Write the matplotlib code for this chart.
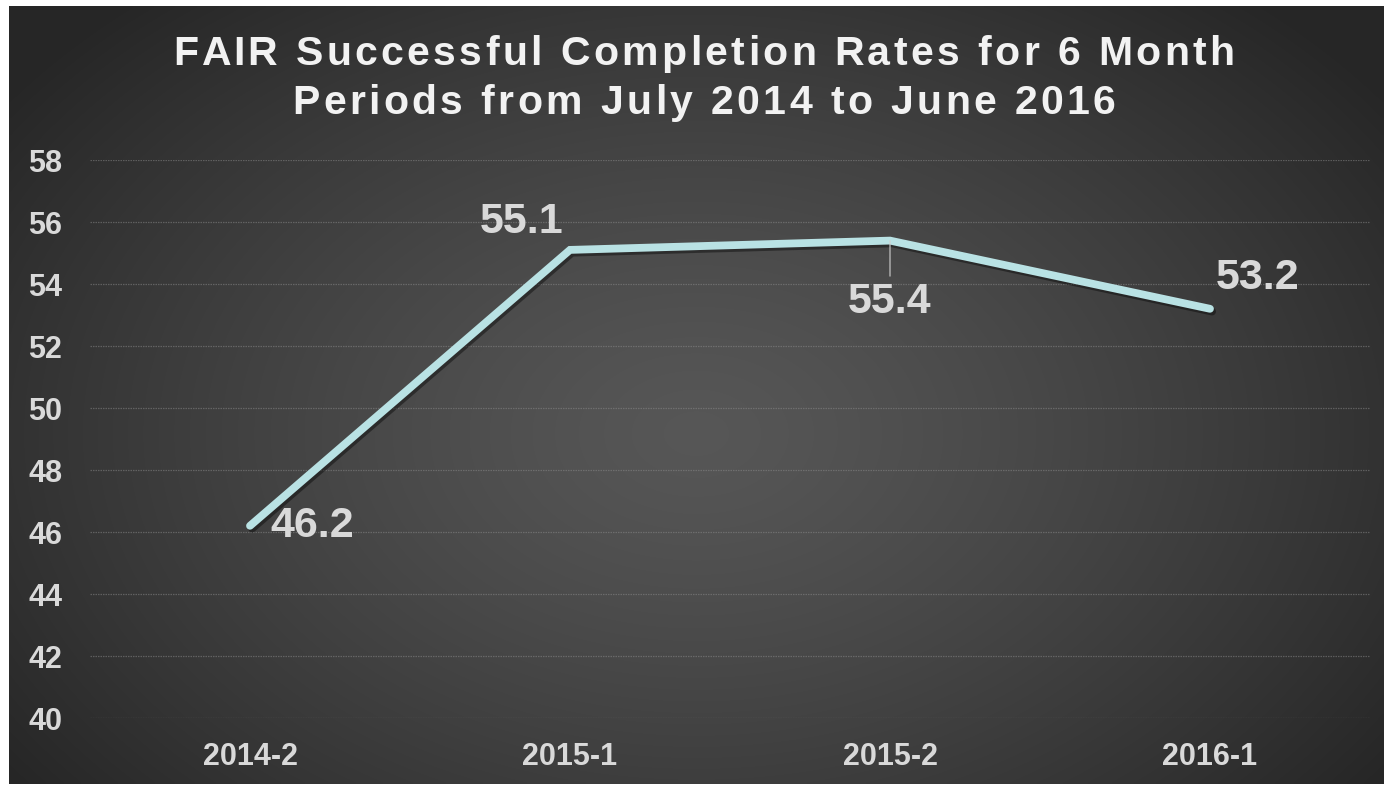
import numpy as np
import matplotlib
matplotlib.use("Agg")
import matplotlib.pyplot as plt
import matplotlib.patheffects as pe
from matplotlib.font_manager import FontProperties

categories = ["2014-2", "2015-1", "2015-2", "2016-1"]
rates = [46.2, 55.1, 55.4, 53.2]
yticks = [40, 42, 44, 46, 48, 50, 52, 54, 56, 58]
title_lines = ["FAIR Successful Completion Rates for 6 Month",
               "Periods from July 2014 to June 2016"]

W, H = 1384, 785
fig = plt.figure(figsize=(W / 100, H / 100), dpi=100)
fig.patch.set_facecolor("white")

# background panel with radial gradient
bx0, bx1, by0, by1 = 9, 1384, 6, 784
bg = fig.add_axes([bx0 / W, 1 - by1 / H, (bx1 - bx0) / W, (by1 - by0) / H])
bg.set_axis_off()
nx, ny = 400, 230
xx, yy = np.meshgrid(np.linspace(0, 1, nx), np.linspace(0, 1, ny))
cx, cy = 0.50, 0.55
r = np.sqrt(((xx - cx) / 0.62) ** 2 + ((yy - cy) / 0.75) ** 2)
r = np.clip(r, 0, 1)
val = 0.34 - (0.34 - 0.15) * r ** 1.3
img = np.dstack([val, val, val])
bg.imshow(img, aspect="auto", extent=[0, 1, 0, 1], origin="upper", interpolation="bilinear")
bg.set_xlim(0, 1)
bg.set_ylim(0, 1)

# main axes
ax_l, ax_r, ax_t, ax_b = 90, 1370, 160, 718
ax = fig.add_axes([ax_l / W, 1 - ax_b / H, (ax_r - ax_l) / W, (ax_b - ax_t) / H])
ax.patch.set_alpha(0)
x = np.arange(len(categories))
ax.set_xlim(-0.5, len(categories) - 0.5)
ax.set_ylim(40, 58)
ax.set_yticks(yticks)
ax.set_xticks(x)
ax.set_xticklabels(categories)
for s in ax.spines.values():
    s.set_visible(False)
ax.tick_params(length=0)
ax.tick_params(axis="y", pad=20, labelsize=22, labelcolor="#d9d9d9")
ax.tick_params(axis="x", pad=17, labelsize=22, labelcolor="#d9d9d9")
for lab in ax.get_xticklabels() + ax.get_yticklabels():
    lab.set_fontfamily("Liberation Sans")
    lab.set_fontweight("bold")
ax.grid(axis="y", color="#8a8a8a", linewidth=0.9, alpha=0.5, linestyle=(0, (1.2, 0.8)))
ax.set_axisbelow(True)

ax.plot(x, rates, color="#b9e2e4", linewidth=5.6, solid_capstyle="round",
        solid_joinstyle="miter", zorder=3,
        path_effects=[pe.SimpleLineShadow(offset=(1.5, -2), shadow_color="black", alpha=0.4),
                      pe.Normal()])

offsets = [(45, 0), (-34.5, 20), (0, -44), (34.5, 22.3)]
for i, (xi, yi) in enumerate(zip(x, rates)):
    dx, dy = offsets[i]
    kw = {}
    if i == 2:
        kw = dict(arrowprops=dict(arrowstyle="-", color="#d0d0d0", lw=0.8, shrinkA=2, shrinkB=0))
    ax.annotate(f"{yi:.1f}", xy=(xi, yi), xytext=(dx, dy), textcoords="offset points",
                ha="center", va="center", fontsize=31, fontweight="bold",
                fontfamily="Liberation Sans", color="#d9d9d9", zorder=4, **kw)

# letter-spaced title
fig.canvas.draw()
renderer = fig.canvas.get_renderer()
tprop = FontProperties(family="Liberation Sans", weight="bold", size=29.5)
spacing = 3.4  # px between letters
bar_w = renderer.get_text_width_height_descent("|", tprop, ismath=False)[0]


def prefix_width(s):
    if not s:
        return 0.0
    return renderer.get_text_width_height_descent(s + "|", tprop, ismath=False)[0] - bar_w


center_x = 704
line_y = [50, 99]
for line, yc in zip(title_lines, line_y):
    total = prefix_width(line) + spacing * (len(line) - 1)
    x0 = center_x - total / 2
    for i, ch in enumerate(line):
        if ch == " ":
            continue
        px = x0 + prefix_width(line[:i]) + spacing * i
        fig.text(px / W, 1 - yc / H, ch, ha="left", va="center_baseline",
                 fontproperties=tprop, color="#f2f2f2")

fig.savefig("out.png", dpi=100, facecolor=fig.get_facecolor())
